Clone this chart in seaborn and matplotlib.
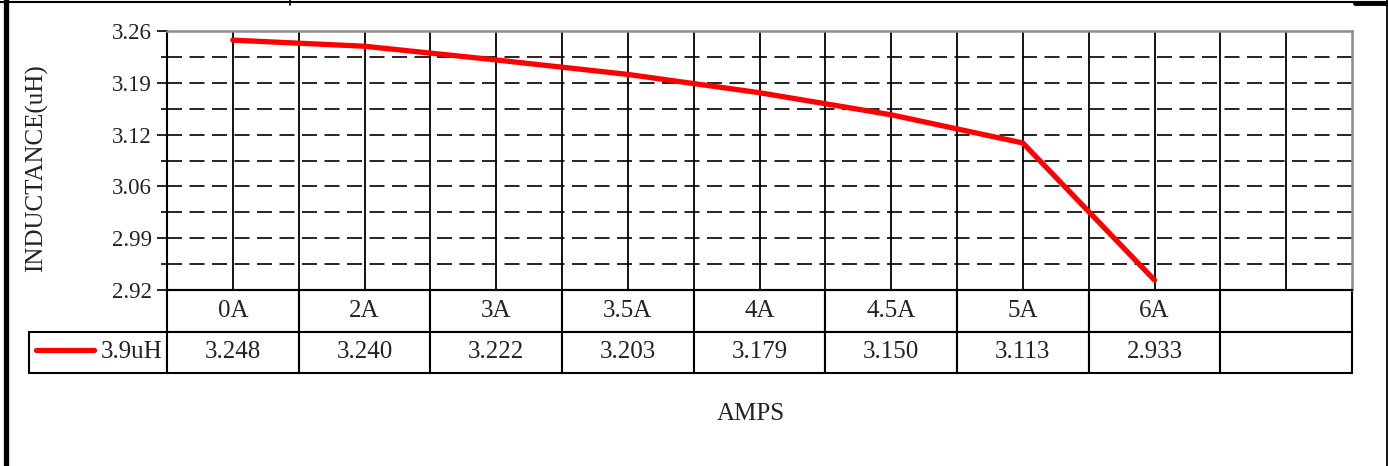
"""Inductance vs. current chart with an Excel-style data table."""

import matplotlib
matplotlib.use('Agg')
import matplotlib.pyplot as plt
from matplotlib.lines import Line2D
from matplotlib.ticker import FixedLocator, FuncFormatter
import numpy as np
import seaborn as sns

# data
categories = ['0A', '2A', '3A', '3.5A', '4A', '4.5A', '5A', '6A', '']
inductance = [3.248, 3.240, 3.222, 3.203, 3.179, 3.150, 3.113, 2.933]
series_name = '3.9uH'
y_ticks = [2.92, 2.988, 3.056, 3.124, 3.192, 3.26]

sns.set_theme(style='white')
plt.rcParams['font.family'] = ['Liberation Serif', 'DejaVu Serif']

W, H = 1388, 466
fig = plt.figure(figsize=(W / 100, H / 100), dpi=100)
fig.patch.set_facecolor('white')

# plot area in pixels: x 167..1352, y 31..290
ax = fig.add_axes([167 / W, 1 - 290 / H, 1185 / W, 259 / H])

x = np.arange(len(inductance))
sns.lineplot(x=x, y=inductance, ax=ax, color='#ff0000', linewidth=3.8,
             label=series_name, solid_capstyle='round')

ax.set_xlim(-0.5, len(categories) - 0.5)
ax.set_ylim(y_ticks[0], y_ticks[-1])

# y axis
ax.yaxis.set_major_locator(FixedLocator(y_ticks))
ax.yaxis.set_major_formatter(FuncFormatter(lambda v, p: f'{v:.2f}'))
mids = [(a + b) / 2 for a, b in zip(y_ticks[:-1], y_ticks[1:])]
ax.yaxis.set_minor_locator(FixedLocator(mids))
ax.tick_params(axis='y', which='major', left=True, direction='out', length=7,
               width=1.2, color='black', pad=4, labelsize=16.5, labelcolor='#222222')
ax.tick_params(axis='y', which='minor', left=True, direction='out', length=4,
               width=1.2, color='black')

# x axis: gridlines at every half category, labels live in the table
ax.xaxis.set_major_locator(FixedLocator(np.arange(0, len(categories), 1.0)))
ax.xaxis.set_minor_locator(FixedLocator(np.arange(0.5, len(categories) - 1, 1.0)))
ax.tick_params(axis='x', which='both', bottom=False, labelbottom=False)

ax.grid(True, axis='x', which='both', color='black', linewidth=1.3, linestyle='-')
ax.grid(True, axis='y', which='both', color='black', linewidth=1.2,
        linestyle=(0, (9, 4.5)))
ax.set_axisbelow(True)

for side in ['left', 'bottom']:
    ax.spines[side].set_color('black')
    ax.spines[side].set_linewidth(1.5)
for side in ['top', 'right']:
    ax.spines[side].set_color('#8c8c8c')
    ax.spines[side].set_linewidth(1.8)

# axis titles
ax.set_ylabel('INDUCTANCE(uH)', fontsize=18, color='#222222')
ax.yaxis.set_label_coords((48 - 167) / 1185, 0.5 - 8 / 259)
ax.set_xlabel('AMPS', fontsize=18, color='#222222')
ax.xaxis.set_label_coords((751 - 167) / 1185, -(403 - 290) / 259)

# data table
cell_text = [[''] + categories,
             [''] + [f'{v:.3f}' for v in inductance] + [''] * (len(categories) - len(inductance))]
col_widths = [138] + [1185 / len(categories)] * len(categories)
tbl = ax.table(cellText=cell_text, colWidths=col_widths, cellLoc='center',
               bbox=[(29 - 167) / 1185, -(373 - 290) / 259,
                     (1352 - 29) / 1185, (373 - 290) / 259])
tbl.auto_set_font_size(False)
tbl.set_fontsize(18)
for (r, c), cell in tbl.get_celld().items():
    cell.set_edgecolor('black')
    cell.set_linewidth(1.5)
    cell.get_text().set_color('#222222')
    if r == 0 and c == 0:
        cell.visible_edges = ''

# legend key inside the first table cell
leg = ax.legend(loc='center right', bbox_to_anchor=((163 - 167) / 1185, -(352 - 290) / 259),
                frameon=False, fontsize=18, handlelength=2.3, handletextpad=0.3,
                borderpad=0, borderaxespad=0)
for t in leg.get_texts():
    t.set_color('#222222')

# outer frame
fig.add_artist(Line2D([5.5 / W, 5.5 / W], [0, 1], transform=fig.transFigure,
                      color='black', linewidth=3.8))
fig.add_artist(Line2D([0, 1], [1 - 1.5 / H, 1 - 1.5 / H], transform=fig.transFigure,
                      color='black', linewidth=1.5))
fig.add_artist(Line2D([1355 / W, 1], [1 - 2.5 / H, 1 - 2.5 / H], transform=fig.transFigure,
                      color='black', linewidth=3.5))
fig.add_artist(Line2D([1386.5 / W, 1386.5 / W], [0, 1], transform=fig.transFigure,
                      color='black', linewidth=1.3))
fig.add_artist(Line2D([290 / W, 290 / W], [1, 1 - 5 / H], transform=fig.transFigure,
                      color='black', linewidth=1.2))

fig.savefig('out.png', dpi=100)
plt.close(fig)
